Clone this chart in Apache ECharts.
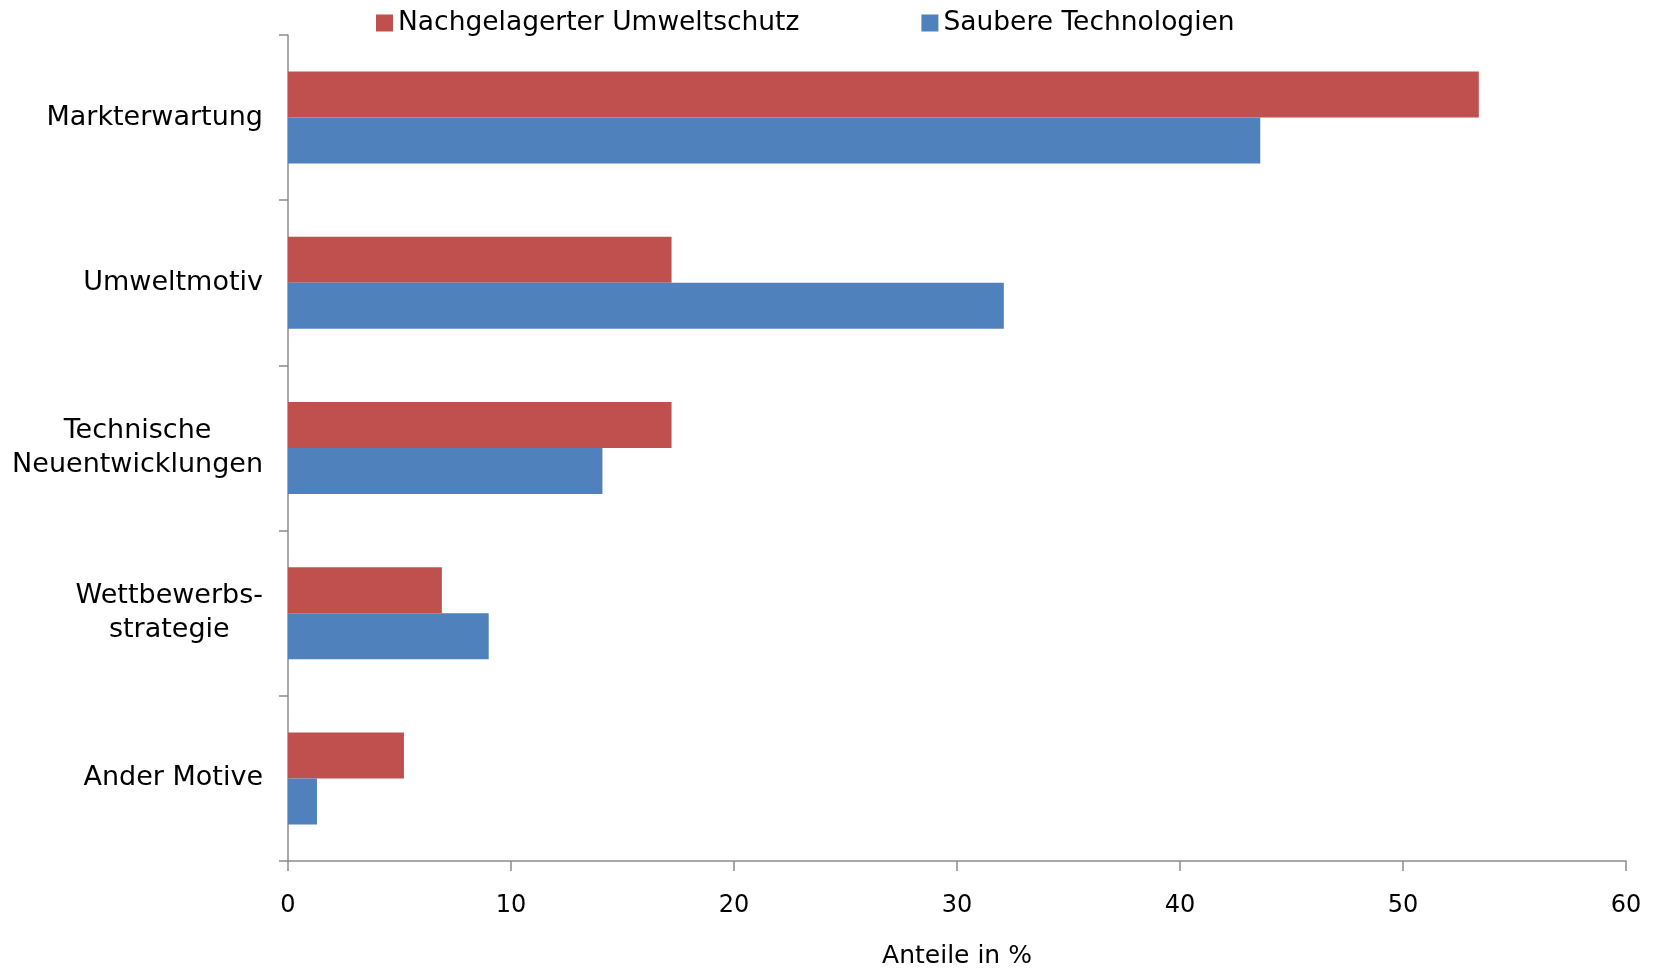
<!DOCTYPE html>
<html>
<head>
<meta charset="utf-8">
<script src="https://cdn.jsdelivr.net/npm/echarts@6/dist/echarts.min.js"></script>
<style>html,body{margin:0;padding:0;background:#fff}#c{width:1656px;height:970px}</style>
</head>
<body>
<div id="c"></div>
<script>
const categories = ['Markterwartung', 'Umweltmotiv', 'Technische\nNeuentwicklungen', 'Wettbewerbs-\nstrategie', 'Ander Motive'];
const seriesNames = ['Nachgelagerter Umweltschutz', 'Saubere Technologien'];
const nachgelagert = [53.4, 17.2, 17.2, 6.9, 5.2];
const sauber = [43.6, 32.1, 14.1, 9.0, 1.3];
const xTicks = { min: 0, max: 60, interval: 10 };
const xName = 'Anteile in %';

const FONT = 'DejaVu Sans';
const chart = echarts.init(document.getElementById('c'), null, { renderer: 'canvas' });
chart.setOption({
  backgroundColor: '#ffffff',
  animation: false,
  textStyle: { fontFamily: FONT, color: '#000' },
  legend: {
    data: seriesNames,
    left: 376,
    top: 9,
    padding: 0,
    icon: 'rect',
    itemWidth: 17,
    itemHeight: 17,
    itemGap: 122,
    textStyle: { fontFamily: FONT, fontSize: 26.5, color: '#000', lineHeight: 28 }
  },
  grid: { left: 288, right: 30, top: 35, bottom: 109, containLabel: false, outerBoundsMode: 'none' },
  xAxis: {
    type: 'value',
    min: xTicks.min, max: xTicks.max, interval: xTicks.interval,
    name: xName,
    nameLocation: 'middle',
    nameGap: 83,
    nameTextStyle: { fontFamily: FONT, fontSize: 25, color: '#000' },
    axisLine: { show: true, lineStyle: { color: '#8c8c8c', width: 1.5 } },
    axisTick: { show: true, length: 10, lineStyle: { color: '#8c8c8c', width: 1.5 } },
    axisLabel: { margin: 33, fontFamily: FONT, fontSize: 24, color: '#000' },
    splitLine: { show: false }
  },
  yAxis: {
    type: 'category',
    data: categories,
    inverse: true,
    axisLine: { show: true, lineStyle: { color: '#8c8c8c', width: 1.5 } },
    axisTick: { show: true, length: 9, alignWithLabel: false, lineStyle: { color: '#8c8c8c', width: 1.5 } },
    axisLabel: {
      margin: 25,
      fontFamily: FONT,
      fontSize: 27,
      color: '#000',
      lineHeight: 34,
      formatter: function (v) {
        return v.split('\n').map(function (l) { return '{c|' + l + '}'; }).join('\n');
      },
      rich: { c: { align: 'center', fontFamily: FONT, fontSize: 27, lineHeight: 34, color: '#000' } }
    },
    splitLine: { show: false }
  },
  series: [
    {
      name: seriesNames[0], type: 'bar', data: nachgelagert,
      barWidth: 46, barGap: '0%',
      itemStyle: { color: '#C0504D' }
    },
    {
      name: seriesNames[1], type: 'bar', data: sauber,
      barWidth: 46, barGap: '0%',
      itemStyle: { color: '#4F81BD' }
    }
  ]
});
</script>
</body>
</html>
